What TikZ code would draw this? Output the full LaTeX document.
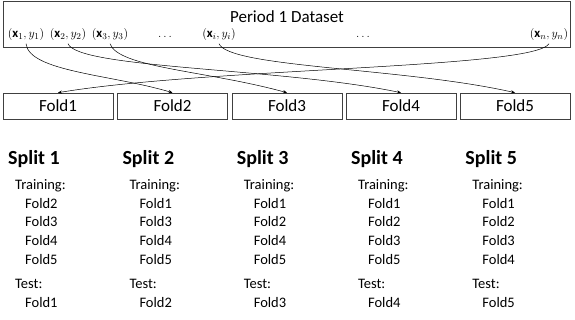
\documentclass[tikz,border=0pt]{standalone}
\usepackage{fontspec}
\setmainfont{Carlito}
\usetikzlibrary{arrows.meta}
\tikzset{
  databox/.style={draw=black!75, line width=0.6pt, inner sep=0pt},
  foldbox/.style={draw=black!75, line width=0.6pt, minimum width=110pt, minimum height=26pt, inner sep=0pt, font=\fontsize{17}{20}\selectfont},
  pairlabel/.style={anchor=base, inner sep=2.5pt, font=\fontsize{12.8}{15}\selectfont},
  splithead/.style={anchor=base west, inner sep=0pt, font=\fontsize{20}{24}\selectfont\bfseries},
  splittext/.style={anchor=base west, inner sep=0pt, font=\fontsize{14.5}{17}\selectfont},
  assign/.style={line width=0.5pt, -{Stealth[length=4pt,width=3.2pt]}}
}
\begin{document}
\begin{tikzpicture}[x=1pt, y=1pt]
    \useasboundingbox (0,0) rectangle (575,-320);
    % Dataset box
    \node[databox, minimum width=567pt, minimum height=46pt, anchor=north west] (data) at (3,-1) {};
    \node[anchor=base, font=\fontsize{17}{20}\selectfont] (title) at (287,-23) {Period 1 Dataset};
    \node[pairlabel] (p1) at (26,-38) {$(\mathbf{x}_1,y_1)$};
    \node[pairlabel] (p2) at (68,-38) {$(\mathbf{x}_2,y_2)$};
    \node[pairlabel] (p3) at (110,-38) {$(\mathbf{x}_3,y_3)$};
    \node[pairlabel] (dots1) at (165,-38) {$\ldots$};
    \node[pairlabel] (pi) at (219,-38) {$(\mathbf{x}_i,y_i)$};
    \node[pairlabel] (dots2) at (363,-38) {$\ldots$};
    \node[pairlabel] (pn) at (549,-38) {$(\mathbf{x}_n,y_n)$};

    % Folds
    \foreach \k/\cx in {1/58, 2/172.5, 3/287, 4/401, 5/515}
        \node[foldbox] (f\k) at (\cx,-106) {Fold\k};

    % Assignment of samples to folds
    \draw[assign] (p1.south) .. controls +(3,-28) and +(-60,18) .. (f2.north);
    \draw[assign] (p2.south) .. controls +(10,-25) and +(-120,25) .. (f4.north);
    \draw[assign] (p3.south) .. controls +(8,-24) and +(-80,22) .. (f3.north);
    \draw[assign] (pi.south) .. controls +(10,-24) and +(-110,25) .. (f5.north);
    \draw[assign] (pn.south) .. controls +(-15,-25) and +(150,25) .. (f1.north);

    % Splits
    \foreach \i/\a/\b/\c/\d in {1/2/3/4/5, 2/1/3/4/5, 3/1/2/4/5, 4/1/2/3/5, 5/1/2/3/4} {
        \pgfmathsetmacro{\sx}{8+(\i-1)*114.3}
        \node[splithead] (split\i) at (\sx,-165) {Split \i};
        \node[splittext] (train\i) at (\sx+7,-190) {Training:};
        \node[splittext] (tra\i) at (\sx+17,-208.5) {Fold\a};
        \node[splittext] (trb\i) at (\sx+17,-227) {Fold\b};
        \node[splittext] (trc\i) at (\sx+17,-245.5) {Fold\c};
        \node[splittext] (trd\i) at (\sx+17,-264) {Fold\d};
        \node[splittext] (test\i) at (\sx+7,-288.5) {Test:};
        \node[splittext] (tst\i) at (\sx+17,-307) {Fold\i};
    }
\end{tikzpicture}
\end{document}
